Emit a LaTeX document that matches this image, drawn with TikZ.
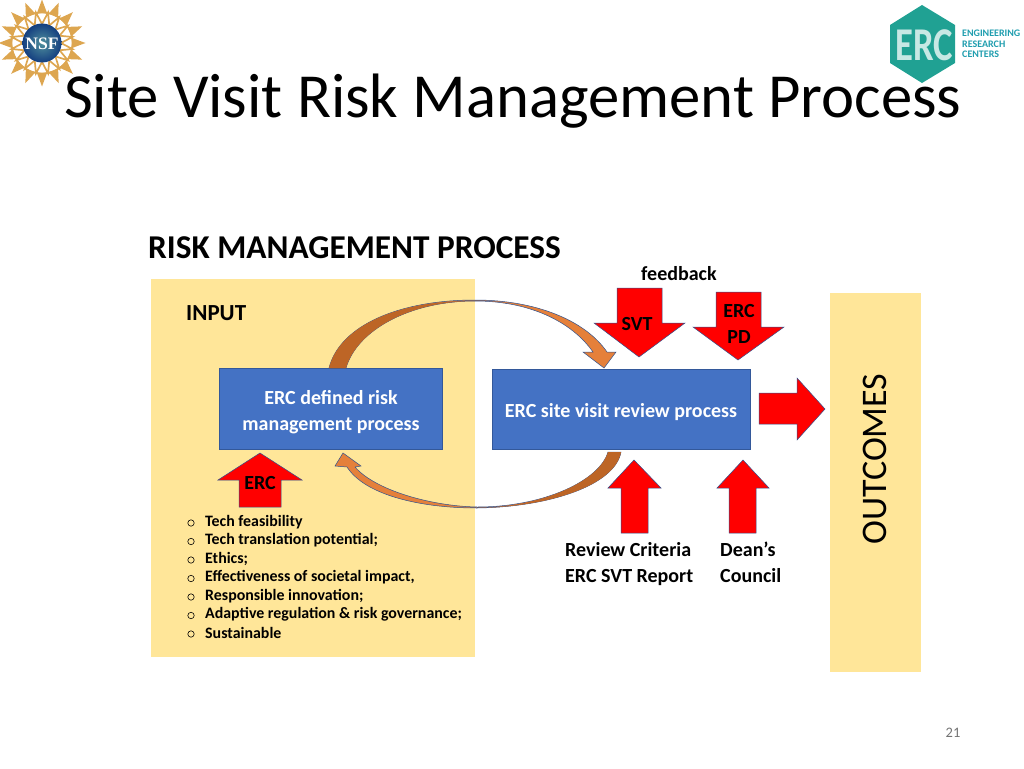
\documentclass[tikz,border=0pt]{standalone}
\usepackage{fontspec}
\setmainfont{Carlito}
\newfontfamily\nsffont{Liberation Serif}
\definecolor{panel}{HTML}{FFE699}
\definecolor{bluebox}{HTML}{4472C4}
\definecolor{blueedge}{HTML}{2F528F}
\definecolor{arrowred}{HTML}{FF0000}
\definecolor{swoosh}{HTML}{E5803A}
\definecolor{swooshdark}{HTML}{BD6526}
\definecolor{tealhex}{HTML}{20A193}
\definecolor{tealtext}{HTML}{1F9DAE}
\definecolor{gold}{HTML}{DDA650}
\definecolor{globein}{HTML}{4F8F9C}
\definecolor{globeout}{HTML}{143F80}
\tikzset{
  panelbox/.style={fill=panel,draw=none},
  procbox/.style={fill=bluebox,draw=blueedge!80!bluebox,line width=0.6pt,text=white,font=\fontsize{20}{26}\selectfont\bfseries,align=center,inner sep=0pt},
  redarrow/.style={fill=arrowred,draw=blueedge,line width=0.5pt},
  blacklabel/.style={font=\fontsize{20}{26}\selectfont\bfseries,align=left,inner sep=0pt},
  swooshline/.style={draw=blueedge,line width=0.5pt},
  bullettext/.style={font=\fontsize{15.9}{18.6}\selectfont\bfseries,inner sep=0pt,anchor=west}
}
\begin{document}
\begin{tikzpicture}[x=1pt,y=-1pt]
\useasboundingbox (0,0) rectangle (1024,768);
% title
\node[anchor=west,inner sep=0pt,font=\fontsize{62.7}{64}\selectfont] (title) at (64,101) {Site Visit Risk Management Process};
% NSF logo
\begin{scope}[shift={(42,43)}]
\foreach \a in {0,22.5,...,337.5}{
  \fill[gold] (\a-10:30) -- (\a:43.5) -- (\a+10:30) -- cycle;
  \draw[gold,line width=1.7pt] (\a:19) -- (\a+11.25:31) -- (\a+22.5:19);
  \draw[gold,line width=1.7pt] (\a:31) -- (\a+22.5:31);
  \draw[gold,line width=1.2pt] (\a+11.25:31) -- (\a:31);
}
\shade[inner color=globein,outer color=globeout] (0,0) circle (19.5);
\node[text=white,font=\nsffont\fontsize{17.5}{17.5}\selectfont\bfseries,inner sep=0pt] (nsf) at (0,1) {NSF};
\end{scope}
% ERC logo
\fill[tealhex] (922,5) -- (955,25) -- (955,63) -- (922,83) -- (890,63) -- (890,25) -- cycle;
\node[text=white!75!tealhex,font=\fontsize{47}{47}\selectfont\bfseries,inner sep=0pt] (erclogo) at (924,45) {\scalebox{0.78}[1]{ERC}};
\node[anchor=west,inner sep=0pt,text=tealtext,align=left,font=\fontsize{10}{10.6}\selectfont\bfseries] (erctext) at (962,44) {ENGINEERING\\RESEARCH\\CENTERS};
% heading
\node[anchor=west,inner sep=0pt,font=\fontsize{33.3}{34}\selectfont\bfseries] (heading) at (148,248) {RISK MANAGEMENT PROCESS};
\node[anchor=west,inner sep=0pt,font=\fontsize{20}{24}\selectfont\bfseries] (feedback) at (641,274) {feedback};
% panels
\node[panelbox,minimum width=324pt,minimum height=378pt,inner sep=0pt,anchor=north west] (inputpanel) at (151,279) {};
\node[panelbox,minimum width=91pt,minimum height=379pt,inner sep=0pt,anchor=north west] (outpanel) at (830,293) {};
\node[rotate=90,inner sep=0pt,font=\fontsize{36}{38}\selectfont] (outcomes) at (875,459) {OUTCOMES};
\node[anchor=west,inner sep=0pt,font=\fontsize{23}{26}\selectfont\bfseries] (input) at (186,313) {INPUT};
% boxes
\node[procbox,minimum width=223pt,minimum height=81pt] (defbox) at (331,409) {\raisebox{-3pt}[\height][\depth]{\begin{tabular}{@{}c@{}}ERC defined risk\\management process\end{tabular}}};
\node[procbox,minimum width=258pt,minimum height=80pt] (visitbox) at (621,409) {\raisebox{-3pt}[\height][\depth]{ERC site visit review process}};
% top swoosh
\fill[swoosh,swooshline] (346,368)
  .. controls (357,330) and (410,301) .. (475,301)
  .. controls (530,301) and (572,322) .. (593,352)
  -- (583,352) -- (604,368) -- (616,352) -- (607,352)
  .. controls (585,320) and (535,300) .. (475,300)
  .. controls (400,300) and (340,325) .. (329,368) -- cycle;
\fill[swooshdark] (346,368)
  .. controls (357,330) and (410,301) .. (475,301)
  .. controls (400,300) and (340,325) .. (329,368) -- cycle;
% bottom swoosh
\fill[swoosh,swooshline] (621,452)
  .. controls (615,485) and (550,507) .. (477,508)
  .. controls (420,508) and (365,495) .. (347,467)
  -- (335,466) -- (343,453) -- (361,466) -- (355,467)
  .. controls (375,490) and (430,506) .. (477,507)
  .. controls (545,507) and (600,480) .. (608,452) -- cycle;
\fill[swooshdark] (621,452) .. controls (615,485) and (550,507) .. (477,508)
  .. controls (545,507) and (600,480) .. (608,452) -- cycle;
% red arrows
\draw[redarrow] (617,288) -- (662,288) -- (662,323) -- (685,323) -- (639,357) -- (594,323) -- (617,323) -- cycle;
\node[font=\fontsize{20}{24}\selectfont\bfseries,inner sep=0pt] (svt) at (637,324) {SVT};
\draw[redarrow] (716,292) -- (761,292) -- (761,327) -- (784,327) -- (738,360) -- (693,327) -- (716,327) -- cycle;
\node[font=\fontsize{20}{26}\selectfont\bfseries,inner sep=0pt,align=center] (pd) at (739,324) {ERC\\PD};
\draw[redarrow] (759,393) -- (797,393) -- (797,378) -- (825,409) -- (797,440) -- (797,424) -- (759,424) -- cycle;
\draw[redarrow] (239,507) -- (281,507) -- (281,480) -- (302,480) -- (260,453) -- (218,480) -- (239,480) -- cycle;
\node[font=\fontsize{20}{24}\selectfont\bfseries,inner sep=0pt] (ercin) at (260,483) {ERC};
\draw[redarrow] (621,533) -- (648,533) -- (648,488) -- (661,488) -- (634,460) -- (608,488) -- (621,488) -- cycle;
\draw[redarrow] (729,533) -- (756,533) -- (756,488) -- (769,488) -- (743,460) -- (717,488) -- (729,488) -- cycle;
% labels
\node[blacklabel,anchor=north west] (criteria) at (565,542) {Review Criteria\\ERC SVT Report};
\node[blacklabel,anchor=north west] (deans) at (720,542) {Dean’s\\Council};
% bullets
\foreach \t [count=\i from 0] in {Tech feasibility,Tech translation potential;,Ethics;,{Effectiveness of societal impact,},Responsible innovation;,Adaptive regulation \& risk governance;,Sustainable}{
  \node[bullettext] (b\i) at (205,{522+18.5*\i}) {\t};
  \draw[line width=0.6pt] (191,{523+18.5*\i}) circle (3.2);
}
\node[anchor=center,inner sep=0pt,text=black!55,font=\fontsize{14.5}{16}\selectfont] (pagenum) at (953,733) {21};
\end{tikzpicture}
\end{document}
